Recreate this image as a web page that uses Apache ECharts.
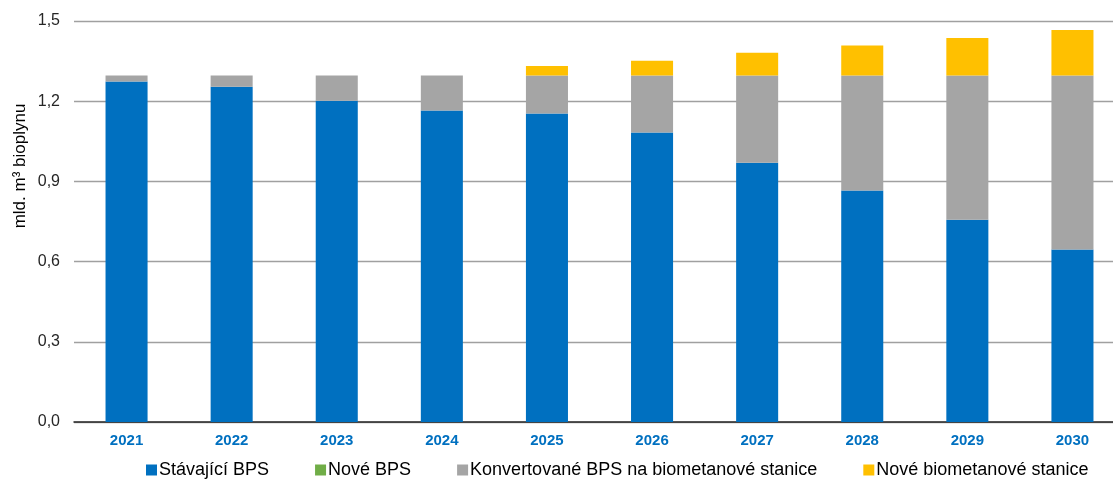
<!DOCTYPE html>
<html><head><meta charset="utf-8">
<script src="https://cdn.jsdelivr.net/npm/echarts@6/dist/echarts.min.js"></script>
<style>html,body{margin:0;padding:0;background:#fff;overflow:hidden}#c{width:1125px;height:479px}</style>
</head><body><div id="c"></div>
<script>
var years = ['2021','2022','2023','2024','2025','2026','2027','2028','2029','2030'];
var stavajici = [1.274,1.254,1.202,1.165,1.154,1.083,0.970,0.866,0.757,0.645];
var noveBPS = [0,0,0,0,0,0,0,0,0,0];
var konvertovane = [0.022,0.042,0.094,0.131,0.142,0.213,0.326,0.430,0.539,0.651];
var noveBiometan = [0,0,0,0,0.036,0.055,0.085,0.112,0.140,0.170];
var seriesNames = ['Stávající BPS','Nové BPS','Konvertované BPS na biometanové stanice','Nové biometanové stanice'];
var colors = ['#0070C0','#70AD47','#A5A5A5','#FFC000'];
var yTicks = {min:0, max:1.5, interval:0.3};

var chart = echarts.init(document.getElementById('c'));
var dataSets = [stavajici, noveBPS, konvertovane, noveBiometan];
chart.setOption({
  animation:false,
  color: colors,
  textStyle:{fontFamily:'Liberation Sans, Arial, sans-serif'},
  grid:{left:74, right:0, top:21, height:401, containLabel:false},
  legend:{
    data: seriesNames, top:456, left:141, itemWidth:11, itemHeight:11, itemGap:46,
    textStyle:{fontSize:18, color:'#000', padding:[0,0,0,-3]}, icon:'rect'
  },
  graphic:[{type:'text', x:20, y:166, rotation:Math.PI/2,
    style:{text:'mld. m³ bioplynu', fontSize:17, fill:'#000', align:'center', verticalAlign:'middle', fontFamily:'Liberation Sans, Arial, sans-serif'}}],
  xAxis:{type:'category', data:years,
    axisLine:{lineStyle:{color:'#262626', width:1.5}}, axisTick:{show:false},
    axisLabel:{color:'#0070C0', fontWeight:'bold', fontSize:15, margin:11}},
  yAxis:{type:'value', min:yTicks.min, max:yTicks.max, interval:yTicks.interval,
    axisLine:{show:false}, axisTick:{show:false},
    splitLine:{lineStyle:{color:'#A0A0A0', width:1.3}},
    axisLabel:{color:'#262626', fontSize:16, margin:14, formatter:function(v){return v.toFixed(1).replace('.',',');}}},
  series: dataSets.map(function(d,i){return {name:seriesNames[i], type:'bar', stack:'s', data:d, barWidth:'40%'};})
});
</script></body></html>
